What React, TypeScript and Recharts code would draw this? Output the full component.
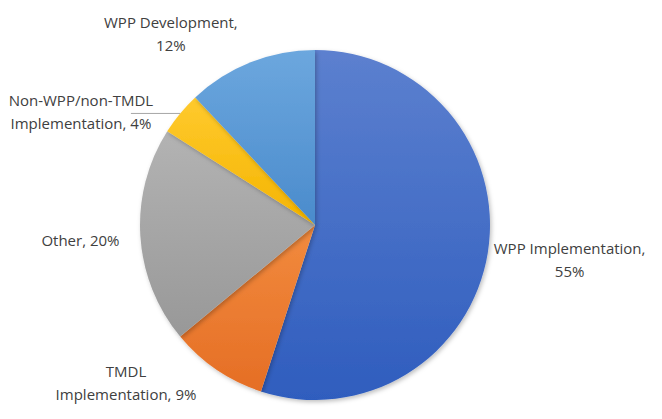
import React from 'react';
import { PieChart, Pie, Cell } from 'recharts';

const categories = [
  'WPP Implementation',
  'TMDL Implementation',
  'Other',
  'Non-WPP/non-TMDL Implementation',
  'WPP Development',
];
const shares = [55, 9, 20, 4, 12];
// label text split into lines like the original
const labelLines = [
  ['WPP Implementation,', '55%'],
  ['TMDL', 'Implementation, 9%'],
  ['Other, 20%'],
  ['Non-WPP/non-TMDL', 'Implementation, 4%'],
  ['WPP Development,', '12%'],
];

const gradients = [
  ['#5C80CF', '#2F5DBE'],
  ['#F28B3E', '#E56E25'],
  ['#B3B3B3', '#989898'],
  ['#FFCA2E', '#F4B400'],
  ['#6CA7DE', '#4A8BCC'],
];
// label placement: angle shift from slice middle and distance from center
const labelShift = [1.2, -16, 0, 13.8, 15.3];
const labelRadius = [257, 246, 235, 260, 240];

const data = categories.map((name, i) => ({ name, value: shares[i] }));

const RAD = Math.PI / 180;

const renderLabel = (props: any) => {
  const { cx, cy, midAngle, outerRadius, index } = props;
  const a = (midAngle + labelShift[index]) * RAD;
  const x = cx + labelRadius[index] * Math.cos(a);
  const y = cy - labelRadius[index] * Math.sin(a);
  const lines = labelLines[index];
  const lh = 23;
  const y0 = y - ((lines.length - 1) * lh) / 2;
  let leader = null;
  if (index === 3) {
    // small slice gets a leader line back to its arc
    const m = midAngle * RAD;
    const px = cx + outerRadius * Math.cos(m);
    const py = cy - outerRadius * Math.sin(m);
    leader = <line x1={px} y1={py} x2={x + 50} y2={py} stroke="#A6A6A6" strokeWidth={1} />;
  }
  return (
    <g>
      {leader}
      <text
        x={x}
        y={y0}
        textAnchor="middle"
        dominantBaseline="central"
        fill="#404040"
        fontSize={15}
        fontFamily="'Open Sans', sans-serif"
      >
        {lines.map((l, i) => (
          <tspan key={i} x={x} dy={i === 0 ? 0 : lh}>
            {l}
          </tspan>
        ))}
      </text>
    </g>
  );
};

export default function App() {
  return (
    <div style={{ position: 'absolute', left: 0, top: 0, width: 662, height: 419, background: '#fff' }}>
      <PieChart width={662} height={419} margin={{ top: 0, right: 0, bottom: 0, left: 0 }}>
        <defs>
          {gradients.map((g, i) => (
            <linearGradient key={i} id={`grad${i}`} x1="0" y1="0" x2="0" y2="1">
              <stop offset="0%" stopColor={g[0]} />
              <stop offset="100%" stopColor={g[1]} />
            </linearGradient>
          ))}
          <filter id="shadow" x="-10%" y="-10%" width="120%" height="120%">
            <feDropShadow dx="1.5" dy="2" stdDeviation="2" floodColor="#000" floodOpacity="0.25" />
          </filter>
        </defs>
        <Pie
          data={data}
          dataKey="value"
          nameKey="name"
          cx={315}
          cy={225}
          outerRadius={175}
          startAngle={90}
          endAngle={-270}
          stroke="none"
          label={renderLabel}
          labelLine={false}
          isAnimationActive={false}
          style={{ filter: 'url(#shadow)' }}
        >
          {data.map((d, i) => (
            <Cell key={d.name} fill={`url(#grad${i})`} />
          ))}
        </Pie>
      </PieChart>
    </div>
  );
}
